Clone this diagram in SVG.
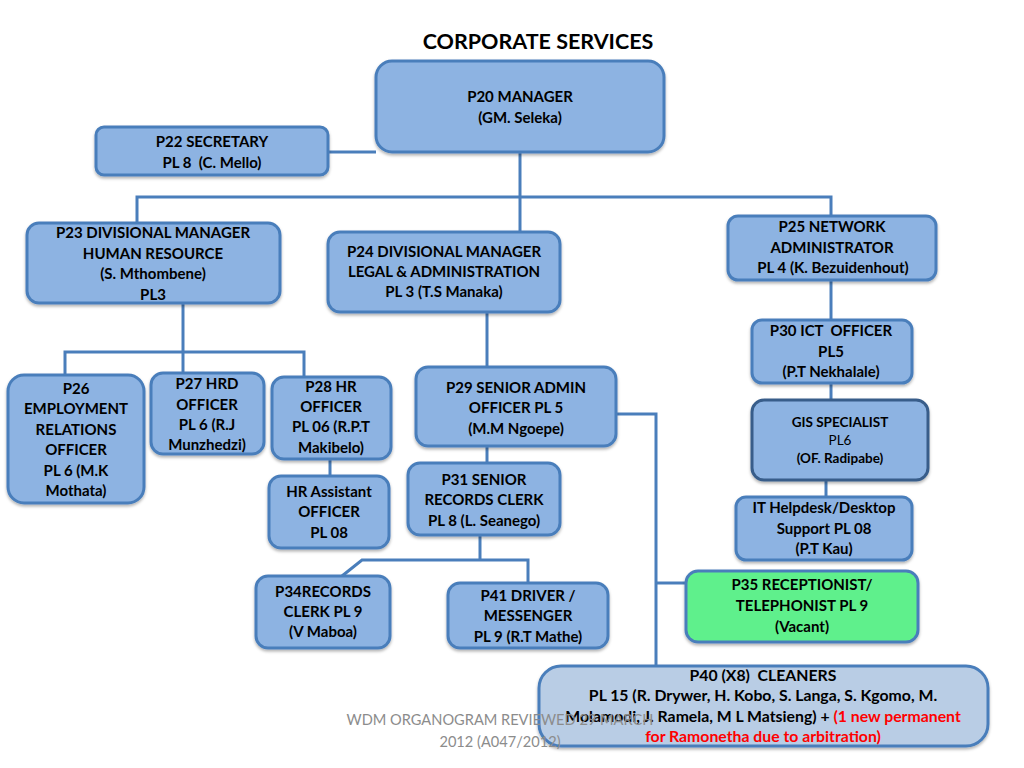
<svg xmlns="http://www.w3.org/2000/svg" width="1024" height="768" viewBox="0 0 1024 768">
<defs>
<filter id="sh" x="-10%" y="-10%" width="120%" height="130%">
<feDropShadow dx="0" dy="2" stdDeviation="1.5" flood-color="#000" flood-opacity="0.3"/>
</filter>
</defs>
<style>
.box{fill:#8db3e2;stroke:#4a7ebb;stroke-width:3;filter:url(#sh)}
.green{fill:#5ef08c}
.light{fill:#b9cde5}
.dark{stroke:#385d8a}
.t{font-family:Lato,"Liberation Sans",sans-serif;font-weight:bold;font-size:15px;fill:#000;text-anchor:middle}
.s{font-size:13.5px}
.big{font-size:15.8px}
.n{font-weight:normal}
.red{fill:#ff0000}
.ln{fill:none;stroke:#4a7ebb;stroke-width:3}
.foot{font-family:Lato,"Liberation Sans",sans-serif;font-size:14.6px;fill:#8c8c8c;text-anchor:middle}
</style>
<rect width="1024" height="768" fill="#fff"/>
<text x="538" y="49" class="t" style="font-size:21.5px">CORPORATE SERVICES</text>

<g id="connectors">
<path class="ln" d="M328,152 H376"/>
<path class="ln" d="M520,152 V232"/>
<path class="ln" d="M137,223 V197 H831 V216"/>
<path class="ln" d="M831,280 V320"/>
<path class="ln" d="M831,383 V400"/>
<path class="ln" d="M826,480 V497"/>
<path class="ln" d="M183,303 V373"/>
<path class="ln" d="M65,375 V352 H304 V377"/>
<path class="ln" d="M330,459 V476"/>
<path class="ln" d="M487,312 V367"/>
<path class="ln" d="M487,446 V463"/>
<path class="ln" d="M616,414 H656 V666"/>
<path class="ln" d="M656,583 H686"/>
<path class="ln" d="M480,535 V560"/>
<path class="ln" d="M528,583 V560 H362 L342,576"/>
</g>

<g id="p20"><rect class="box" x="376" y="61" width="288" height="91" rx="16"/>
<text class="t" x="520" y="102">P20 MANAGER</text><text class="t" x="520" y="123">(GM. Seleka)</text></g>

<g id="p22"><rect class="box" x="96" y="127" width="232" height="48" rx="8"/>
<text class="t" x="212" y="147">P22 SECRETARY</text><text class="t" x="212" y="168" xml:space="preserve">PL 8  (C. Mello)</text></g>

<g id="p23"><rect class="box" x="27" y="223" width="253" height="80" rx="12"/>
<text class="t" x="153" y="238">P23 DIVISIONAL MANAGER</text><text class="t" x="153" y="259">HUMAN RESOURCE</text><text class="t" x="153" y="279">(S. Mthombene)</text><text class="t" x="153" y="300">PL3</text></g>

<g id="p24"><rect class="box" x="328" y="232" width="232" height="80" rx="12"/>
<text class="t" x="444" y="257">P24 DIVISIONAL MANAGER</text><text class="t" x="444" y="277">LEGAL &amp; ADMINISTRATION</text><text class="t" x="444" y="297">PL 3 (T.S Manaka)</text></g>

<g id="p25"><rect class="box" x="728" y="216" width="208" height="64" rx="10"/>
<text class="t" x="832" y="232">P25 NETWORK</text><text class="t" x="832" y="253">ADMINISTRATOR</text><text class="t" x="833" y="273">PL 4 (K. Bezuidenhout)</text></g>

<g id="p30"><rect class="box" x="752" y="320" width="160" height="63" rx="10"/>
<text class="t" x="831" y="336" xml:space="preserve">P30 ICT  OFFICER</text><text class="t" x="831" y="357">PL5</text><text class="t" x="831" y="377">(P.T Nekhalale)</text></g>

<g id="gis"><rect class="box dark" x="752" y="400" width="176" height="80" rx="12"/>
<text class="t s" x="840" y="427">GIS SPECIALIST</text><text class="t s n" x="840" y="445">PL6</text><text class="t s" x="840" y="463">(OF. Radipabe)</text></g>

<g id="it"><rect class="box" x="736" y="497" width="176" height="63" rx="10"/>
<text class="t" x="824" y="513">IT Helpdesk/Desktop</text><text class="t" x="824" y="534">Support PL 08</text><text class="t" x="824" y="554">(P.T Kau)</text></g>

<g id="p35"><rect class="box green" x="686" y="571" width="232" height="71" rx="12"/>
<text class="t" x="802" y="590">P35 RECEPTIONIST/</text><text class="t" x="802" y="611">TELEPHONIST PL 9</text><text class="t" x="802" y="632">(Vacant)</text></g>

<g id="p26"><rect class="box" x="8" y="375" width="136" height="128" rx="16"/>
<text class="t" x="76" y="394">P26</text><text class="t" x="76" y="414">EMPLOYMENT</text><text class="t" x="76" y="435">RELATIONS</text><text class="t" x="76" y="455">OFFICER</text><text class="t" x="76" y="476">PL 6 (M.K</text><text class="t" x="76" y="496">Mothata)</text></g>

<g id="p27"><rect class="box" x="151" y="373" width="113" height="81" rx="12"/>
<text class="t" x="207" y="389">P27 HRD</text><text class="t" x="207" y="410">OFFICER</text><text class="t" x="207" y="430">PL 6 (R.J</text><text class="t" x="207" y="450">Munzhedzi)</text></g>

<g id="p28"><rect class="box" x="272" y="377" width="119" height="82" rx="12"/>
<text class="t" x="331" y="392">P28 HR</text><text class="t" x="331" y="412">OFFICER</text><text class="t" x="331" y="432">PL 06 (R.P.T</text><text class="t" x="331" y="453">Makibelo)</text></g>

<g id="hrasst"><rect class="box" x="269" y="476" width="120" height="72" rx="12"/>
<text class="t" x="329" y="497">HR Assistant</text><text class="t" x="329" y="517">OFFICER</text><text class="t" x="329" y="538">PL 08</text></g>

<g id="p29"><rect class="box" x="416" y="367" width="200" height="79" rx="12"/>
<text class="t" x="516" y="393">P29 SENIOR ADMIN</text><text class="t" x="516" y="413">OFFICER PL 5</text><text class="t" x="516" y="434">(M.M Ngoepe)</text></g>

<g id="p31"><rect class="box" x="408" y="463" width="152" height="72" rx="12"/>
<text class="t" x="484" y="485">P31 SENIOR</text><text class="t" x="484" y="505">RECORDS CLERK</text><text class="t" x="484" y="526">PL 8 (L. Seanego)</text></g>

<g id="p34"><rect class="box" x="256" y="576" width="134" height="72" rx="12"/>
<text class="t" x="323" y="597">P34RECORDS</text><text class="t" x="323" y="617">CLERK PL 9</text><text class="t" x="323" y="637">(V Maboa)</text></g>

<g id="p41"><rect class="box" x="448" y="583" width="160" height="65" rx="12"/>
<text class="t" x="528" y="601">P41 DRIVER /</text><text class="t" x="528" y="621">MESSENGER</text><text class="t" x="528" y="642">PL 9 (R.T Mathe)</text></g>

<g id="p40"><rect class="box light" x="539" y="666" width="449" height="80" rx="22"/>
<text class="t big" x="763" y="681" xml:space="preserve">P40 (X8)  CLEANERS</text>
<text class="t big" x="763" y="701">PL 15 (R. Drywer, H. Kobo, S. Langa, S. Kgomo, M.</text>
<text class="t big" x="763" y="722">Molamodi, J. Ramela, M L Matsieng) + <tspan class="red">(1 new permanent</tspan></text>
<text class="t big red" x="763" y="742">for Ramonetha due to arbitration)</text></g>

<g id="footer">
<text class="foot" x="500" y="725">WDM ORGANOGRAM REVIEWED 29 MARCH</text>
<text class="foot" x="500" y="747">2012 (A047/2012)</text>
</g>
</svg>
